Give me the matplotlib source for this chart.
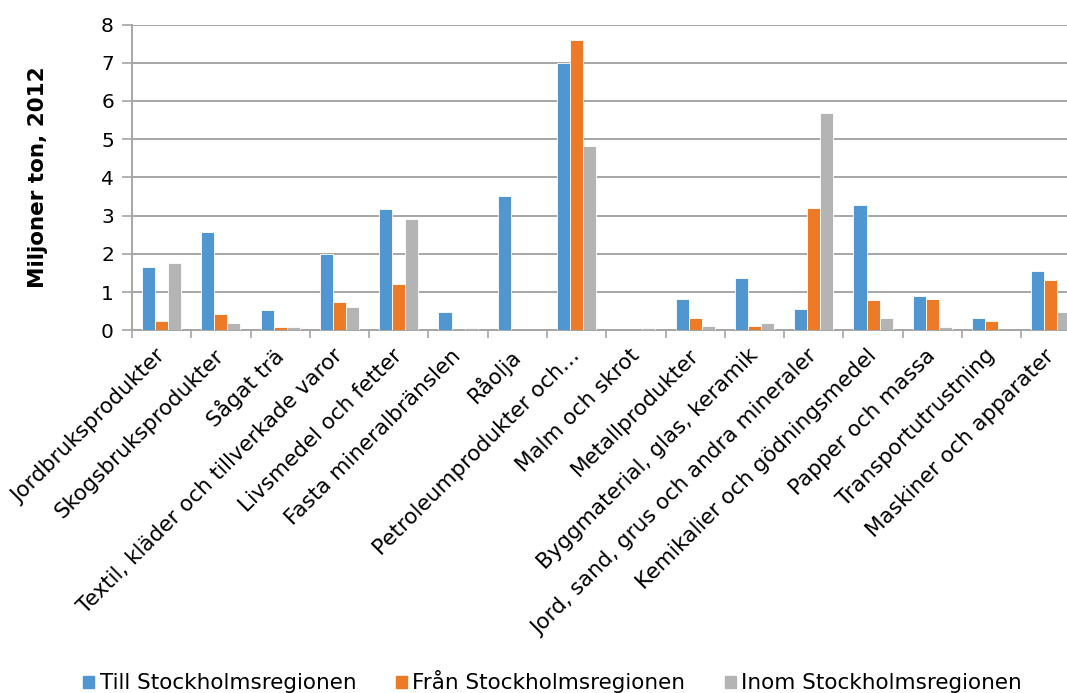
import numpy as np
import matplotlib.pyplot as plt
from matplotlib.patches import Patch

# Varugrupper och godsmängder (miljoner ton, 2012)
kategorier = [
    "Jordbruksprodukter", "Skogsbruksprodukter", "Sågat trä",
    "Textil, kläder och tillverkade varor", "Livsmedel och fetter",
    "Fasta mineralbränslen", "Råolja", "Petroleumprodukter och…",
    "Malm och skrot", "Metallprodukter", "Byggmaterial, glas, keramik",
    "Jord, sand, grus och andra mineraler", "Kemikalier och gödningsmedel",
    "Papper och massa", "Transportutrustning", "Maskiner och apparater",
]
till = [1.65, 2.57, 0.52, 2.00, 3.18, 0.47, 3.51, 6.99,
        0.01, 0.82, 1.37, 0.55, 3.28, 0.90, 0.32, 1.56]
fran = [0.25, 0.43, 0.08, 0.75, 1.20, 0.01, 0.00, 7.60,
        0.01, 0.31, 0.10, 3.21, 0.79, 0.81, 0.24, 1.32]
inom = [1.77, 0.18, 0.08, 0.62, 2.92, 0.05, 0.00, 4.82,
        0.07, 0.10, 0.19, 5.68, 0.32, 0.09, 0.00, 0.49]
serienamn = ["Till Stockholmsregionen", "Från Stockholmsregionen",
             "Inom Stockholmsregionen"]
farger = ["#5097D2", "#EC7A26", "#B4B4B4"]

fig = plt.figure(figsize=(10.67, 6.93), dpi=100)
ax = fig.add_axes([0.1237, 0.5234, 0.889, 0.4412])

x = np.arange(len(kategorier))
bw = 0.22
for i, (vals, c) in enumerate(zip([till, fran, inom], farger)):
    ax.bar(x + (i - 1) * bw, vals, bw, color=c, edgecolor="white",
           linewidth=0.6, zorder=3)

ax.set_xlim(-0.5, len(kategorier) - 0.5)
ax.set_ylim(0, 8)
ax.set_yticks(range(0, 9))
ax.yaxis.grid(True, color="#A6A6A6", linewidth=1.4, zorder=0)

grid_c = "#A6A6A6"
for s in ["top", "right"]:
    ax.spines[s].set_visible(False)
for s in ["left", "bottom"]:
    ax.spines[s].set_color(grid_c)
    ax.spines[s].set_linewidth(1.4)

# tick marks between the categories, labels at the centres
ax.set_xticks(np.arange(len(kategorier) + 1) - 0.5)
ax.set_xticklabels([])
ax.set_xticks(x, minor=True)
ax.set_xticklabels(kategorier, minor=True, rotation=45, ha="right",
                   va="center", rotation_mode="anchor", fontsize=15.5)
ax.tick_params(axis="x", which="major", length=6, color=grid_c, width=1.2)
ax.tick_params(axis="x", which="minor", length=0, pad=16)
ax.tick_params(axis="y", length=7, color=grid_c, width=1.2,
               labelsize=14.5, pad=6)

ax.set_ylabel("Miljoner ton, 2012", fontsize=15.5, fontweight="bold",
              labelpad=38)

handles = [Patch(color=c) for c in farger]
fig.legend(handles, serienamn, loc="center", bbox_to_anchor=(0.518, 0.016),
           ncol=3, frameon=False, fontsize=15.5, handlelength=0.5,
           handleheight=0.5, handletextpad=0.25, columnspacing=1.85)

fig.savefig("out.png", dpi=100)
